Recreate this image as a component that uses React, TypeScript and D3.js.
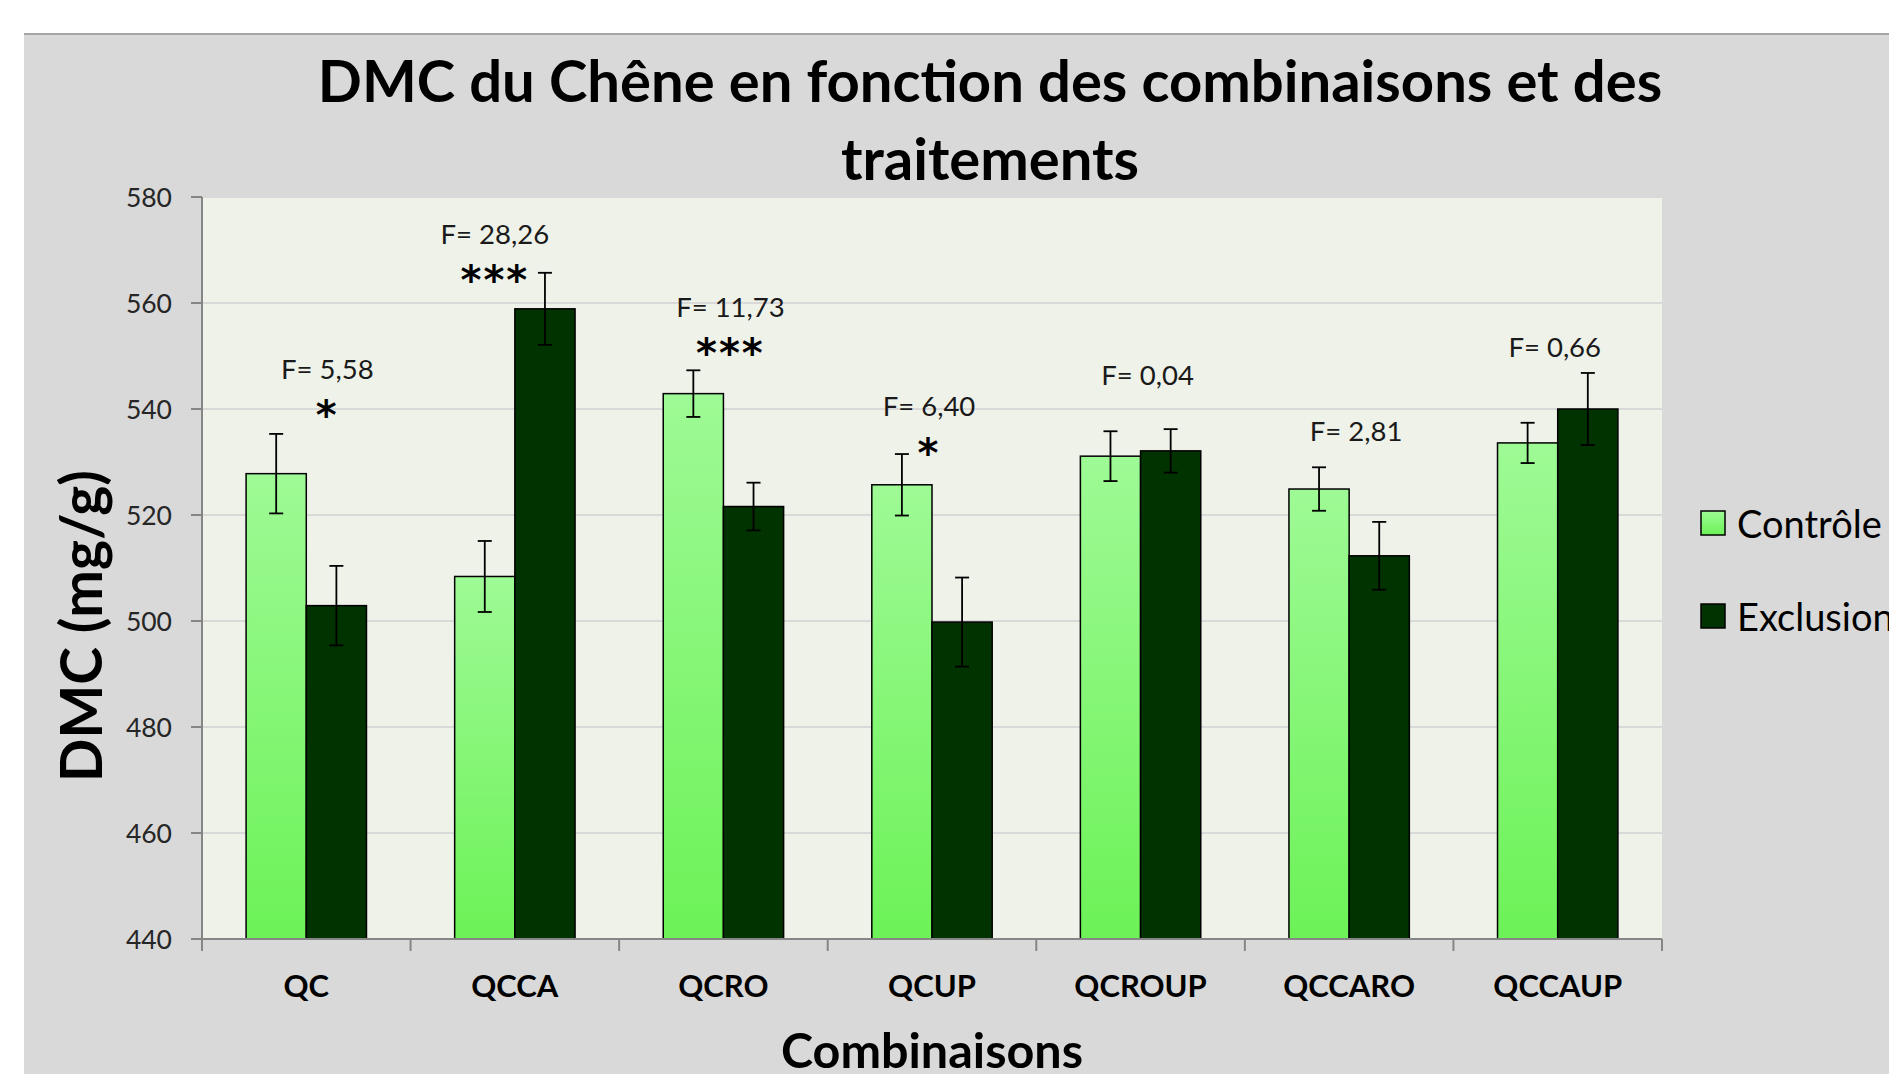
import React from 'react';
import * as d3 from 'd3';

const categories = ['QC', 'QCCA', 'QCRO', 'QCUP', 'QCROUP', 'QCCARO', 'QCCAUP'];
const seriesNames = ['Contrôle', 'Exclusion'];
const controle = [527.8, 508.4, 542.9, 525.7, 531.1, 524.9, 533.6];
const controleErr = [7.5, 6.7, 4.4, 5.8, 4.7, 4.1, 3.8];
const exclusion = [502.9, 558.9, 521.6, 499.8, 532.1, 512.3, 540.0];
const exclusionErr = [7.5, 6.8, 4.5, 8.4, 4.1, 6.4, 6.8];
const fLabels = ['F= 5,58', 'F= 28,26', 'F= 11,73', 'F= 6,40', 'F= 0,04', 'F= 2,81', 'F= 0,66'];
const signif = ['*', '***', '***', '*', '', '', ''];
// height (in mg/g) where each F annotation sits
const fLevel = [547.7, 573.2, 559.4, 540.6, 546.6, 536.0, 551.7];
const yDomain = [440, 580];

// small horizontal nudges of the hand-placed text boxes (px)
const fDx = [21, -20, 7, -3, 7, 7, -3];

const W = 1889;
const H = 1074;
const FONT = "Lato, 'Open Sans', sans-serif";

export default function App() {
  const left = 202, right = 1662, top = 197, bottom = 939;

  const x = d3.scaleBand().domain(categories).range([left, right]);
  const bw = x.bandwidth();
  const inner = d3.scaleBand().domain(seriesNames).range([bw * 0.2114, bw * 0.7886]);
  const y = d3.scaleLinear().domain(yDomain).range([bottom, top]);
  const yTicks = y.ticks(7);

  const series = [
    { name: seriesNames[0], values: controle, errs: controleErr, fill: 'url(#gradCtrl)' },
    { name: seriesNames[1], values: exclusion, errs: exclusionErr, fill: '#003300' },
  ];

  const cap = 7;

  return (
    <svg width={W} height={H} style={{ position: 'absolute', left: 0, top: 0 }} fontFamily={FONT}>
      <defs>
        <linearGradient id="gradCtrl" x1="0" y1="0" x2="0" y2="1">
          <stop offset="0%" stopColor="#9efa95" />
          <stop offset="100%" stopColor="#6cf257" />
        </linearGradient>
      </defs>
      <rect x={0} y={0} width={W} height={H} fill="#ffffff" />
      <rect x={24} y={34} width={W - 24} height={H - 34} fill="#d9d9d9" />
      <line x1={24} x2={W} y1={34} y2={34} stroke="#a6a6a6" strokeWidth={2} />

      {/* title */}
      <text x={990} y={79} textAnchor="middle" dominantBaseline="central" fontSize={58} fontWeight="bold" fill="#000">
        DMC du Chêne en fonction des combinaisons et des
      </text>
      <text x={990} y={157} textAnchor="middle" dominantBaseline="central" fontSize={58} fontWeight="bold" fill="#000">
        traitements
      </text>

      {/* plot area */}
      <rect x={left} y={top} width={right - left} height={bottom - top} fill="#eff2e9" />
      {yTicks.filter(t => t > yDomain[0]).map(t => (
        <line key={'g' + t} x1={left} x2={right} y1={y(t)} y2={y(t)} stroke="#d9d9d9" strokeWidth={2} />
      ))}

      {/* y axis */}
      <line x1={left} x2={left} y1={top} y2={bottom} stroke="#868686" strokeWidth={2} />
      {yTicks.map(t => (
        <g key={'y' + t}>
          <line x1={left - 11} x2={left} y1={y(t)} y2={y(t)} stroke="#868686" strokeWidth={2} />
          <text x={left - 30} y={y(t)} textAnchor="end" dominantBaseline="central" fontSize={26.5} fill="#262626">
            {t}
          </text>
        </g>
      ))}

      {/* bars */}
      {series.map(s => (
        <g key={s.name}>
          {categories.map((c, i) => (
            <rect
              key={c}
              x={(x(c) ?? 0) + (inner(s.name) ?? 0)}
              y={y(s.values[i])}
              width={inner.bandwidth()}
              height={y(yDomain[0]) - y(s.values[i])}
              fill={s.fill}
              stroke="#000"
              strokeWidth={1.5}
            />
          ))}
        </g>
      ))}

      {/* error bars */}
      {series.map(s => (
        <g key={'e' + s.name} stroke="#000" strokeWidth={1.8}>
          {categories.map((c, i) => {
            const cx = (x(c) ?? 0) + (inner(s.name) ?? 0) + inner.bandwidth() / 2;
            const y0 = y(s.values[i] + s.errs[i]);
            const y1 = y(s.values[i] - s.errs[i]);
            return (
              <g key={c}>
                <line x1={cx} x2={cx} y1={y0} y2={y1} />
                <line x1={cx - cap} x2={cx + cap} y1={y0} y2={y0} />
                <line x1={cx - cap} x2={cx + cap} y1={y1} y2={y1} />
              </g>
            );
          })}
        </g>
      ))}

      {/* x axis */}
      <line x1={left} x2={right} y1={bottom} y2={bottom} stroke="#868686" strokeWidth={2} />
      {categories.concat(['end']).map((c, i) => {
        const tx = left + i * bw;
        return <line key={'xt' + i} x1={tx} x2={tx} y1={bottom} y2={bottom + 12} stroke="#868686" strokeWidth={2} />;
      })}
      {categories.map(c => (
        <text key={'xl' + c} x={(x(c) ?? 0) + bw / 2} y={985} textAnchor="middle" dominantBaseline="central" fontSize={31} fontWeight="bold" fill="#000">
          {c}
        </text>
      ))}

      {/* F annotations */}
      {categories.map((c, i) => (
        <g key={'f' + c}>
          <text x={(x(c) ?? 0) + bw / 2 + fDx[i]} y={y(fLevel[i])} textAnchor="middle" dominantBaseline="central" fontSize={27.5} fill="#1a1a1a">
            {fLabels[i]}
          </text>
          {signif[i] && (
            <text x={(x(c) ?? 0) + bw / 2 + fDx[i]} y={y(fLevel[i]) + 40 + 21} textAnchor="middle" fontSize={40} fontWeight="bold" letterSpacing={2} fill="#000" fontFamily="'DejaVu Sans', sans-serif">
              {signif[i]}
            </text>
          )}
        </g>
      ))}

      {/* axis titles */}
      <text x={932} y={1049} textAnchor="middle" dominantBaseline="central" fontSize={48.5} fontWeight="bold" fill="#000">
        Combinaisons
      </text>
      <text transform={`translate(80, 626) rotate(-90)`} textAnchor="middle" dominantBaseline="central" fontSize={57} fontWeight="bold" fill="#000">
        DMC (mg/g)
      </text>

      {/* legend */}
      {seriesNames.map((n, i) => (
        <g key={'lg' + n} transform={`translate(1701, ${523 + i * 93})`}>
          <rect x={0} y={-12} width={24} height={24} fill={series[i].fill} stroke="#000" strokeWidth={1.5} />
          <text x={36} y={0} dominantBaseline="central" fontSize={38} fill="#000">
            {n}
          </text>
        </g>
      ))}
    </svg>
  );
}
